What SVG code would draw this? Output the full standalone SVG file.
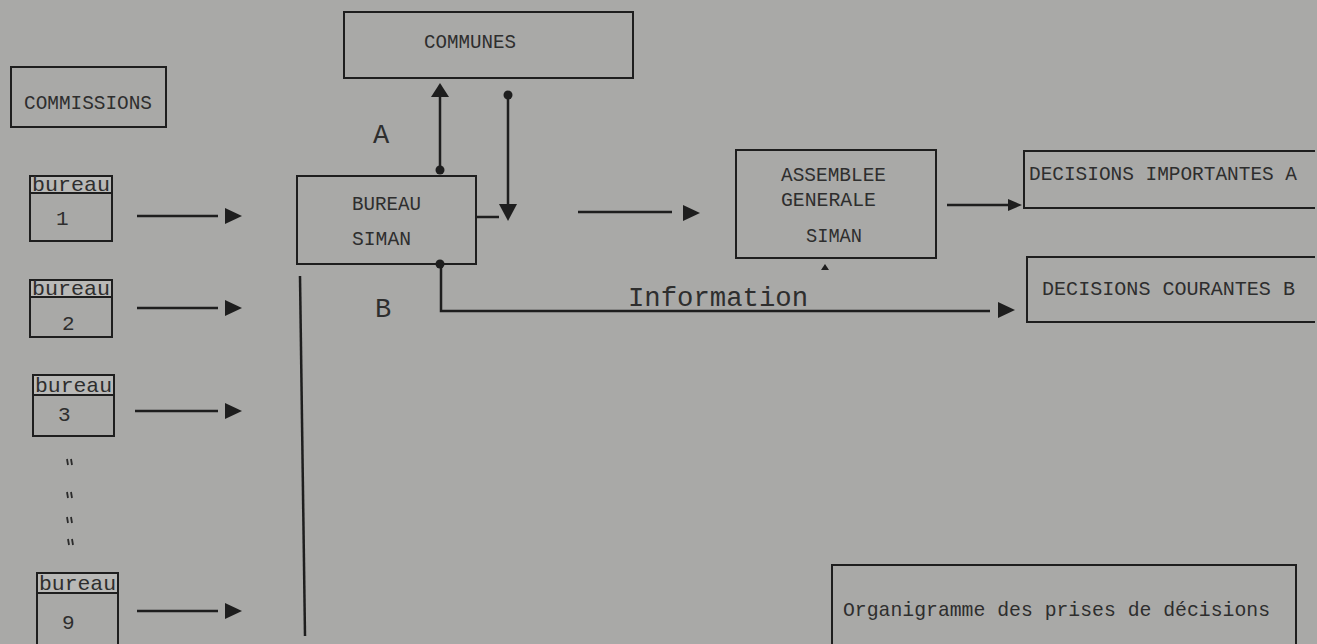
<svg xmlns="http://www.w3.org/2000/svg" width="1317" height="644" viewBox="0 0 1317 644">
<style>
.bg{fill:#a9a9a7}
.box{fill:none;stroke:#1e1e1e;stroke-width:2}
.hdr{fill:#b9b9b7;stroke:#1e1e1e;stroke-width:2}
.t{font-family:"Liberation Mono","DejaVu Sans Mono",monospace;fill:#2e2e2e;font-size:21px}
.big{font-size:27px}
.conn{fill:none;stroke:#1e1e1e;stroke-width:2.5}
.head{fill:#1e1e1e}
</style>
<defs>
<path id="ah" d="M0,-8 L17,0 L0,8 Z"/>
<path id="ahs" d="M0,-6 L14,0 L0,6 Z"/>
<g id="ditto"><path d="M0,0 l1,6 M4,0 l1,6" stroke="#2b2b2b" stroke-width="1.8"/></g>
</defs>
<rect class="bg" x="0" y="0" width="1317" height="644"/>

<g id="commissions">
<rect class="box" x="11" y="67" width="155" height="60"/>
<text class="t" x="24" y="109" textLength="128" lengthAdjust="spacingAndGlyphs">COMMISSIONS</text>
</g>

<g id="communes">
<rect class="box" x="344" y="12" width="289" height="66"/>
<text class="t" x="424" y="48" textLength="92" lengthAdjust="spacingAndGlyphs">COMMUNES</text>
</g>

<g id="bureau1">
<rect class="hdr" x="30" y="176" width="82" height="17"/>
<rect class="box" x="30" y="176" width="82" height="65"/>
<text class="t" x="32" y="191" font-size="19" textLength="78" lengthAdjust="spacingAndGlyphs">bureau</text>
<text class="t" x="56" y="225" font-size="22">1</text>
</g>
<g id="bureau2">
<rect class="hdr" x="30" y="280" width="82" height="17"/>
<rect class="box" x="30" y="280" width="82" height="57"/>
<text class="t" x="32" y="295" font-size="19" textLength="78" lengthAdjust="spacingAndGlyphs">bureau</text>
<text class="t" x="62" y="330" font-size="22">2</text>
</g>
<g id="bureau3">
<rect class="hdr" x="33" y="375" width="81" height="20"/>
<rect class="box" x="33" y="375" width="81" height="61"/>
<text class="t" x="35" y="392" font-size="19" textLength="77" lengthAdjust="spacingAndGlyphs">bureau</text>
<text class="t" x="58" y="421" font-size="22">3</text>
</g>
<g id="ditto-marks">
<use href="#ditto" x="67" y="459"/>
<use href="#ditto" x="67" y="492"/>
<use href="#ditto" x="67" y="517"/>
<use href="#ditto" x="68" y="539"/>
</g>
<g id="bureau9">
<rect class="hdr" x="37" y="573" width="81" height="20"/>
<path class="box" d="M37,644 V573 H118 V644"/>
<text class="t" x="39" y="590" font-size="19" textLength="77" lengthAdjust="spacingAndGlyphs">bureau</text>
<text class="t" x="62" y="629" font-size="22">9</text>
</g>

<g id="bureau-siman">
<rect class="box" x="297" y="176" width="179" height="88"/>
<text class="t" x="352" y="210" textLength="69" lengthAdjust="spacingAndGlyphs">BUREAU</text>
<text class="t" x="352" y="245" textLength="59" lengthAdjust="spacingAndGlyphs">SIMAN</text>
</g>

<g id="assemblee">
<rect class="box" x="736" y="150" width="200" height="108"/>
<text class="t" x="781" y="181" textLength="105" lengthAdjust="spacingAndGlyphs">ASSEMBLEE</text>
<text class="t" x="781" y="206" textLength="95" lengthAdjust="spacingAndGlyphs">GENERALE</text>
<text class="t" x="806" y="242" textLength="56" lengthAdjust="spacingAndGlyphs">SIMAN</text>
</g>

<g id="decisions-importantes">
<path class="box" d="M1315,151 H1024 V208 H1315"/>
<text class="t" x="1029" y="180" font-size="19.5" textLength="268" lengthAdjust="spacingAndGlyphs">DECISIONS IMPORTANTES A</text>
</g>

<g id="decisions-courantes">
<path class="box" d="M1315,257 H1027 V322 H1315"/>
<text class="t" x="1042" y="295" textLength="253" lengthAdjust="spacingAndGlyphs">DECISIONS COURANTES B</text>
</g>

<g id="legend">
<path class="box" d="M832,644 V565 H1296 V644"/>
<text class="t" x="843" y="616" textLength="427" lengthAdjust="spacingAndGlyphs">Organigramme des prises de décisions</text>
</g>

<g id="labels">
<text class="t big" x="373" y="143">A</text>
<text class="t big" x="375" y="317">B</text>
<text class="t big" x="628" y="306" textLength="180" lengthAdjust="spacingAndGlyphs">Information</text>
</g>

<g id="connectors">
<line class="conn" x1="137" y1="216" x2="218" y2="216"/>
<use class="head" href="#ah" x="225" y="216"/>
<line class="conn" x1="137" y1="308" x2="218" y2="308"/>
<use class="head" href="#ah" x="225" y="308"/>
<line class="conn" x1="135" y1="411" x2="218" y2="411"/>
<use class="head" href="#ah" x="225" y="411"/>
<line class="conn" x1="137" y1="611" x2="218" y2="611"/>
<use class="head" href="#ah" x="225" y="611"/>

<line class="conn" x1="300" y1="276" x2="305" y2="636" stroke-width="2"/>

<line class="conn" x1="440" y1="170" x2="440" y2="97" stroke-width="2"/>
<circle class="head" cx="440" cy="170" r="4.5"/>
<path class="head" d="M440,83 L449,97 L431,97 Z"/>

<line class="conn" x1="508" y1="95" x2="508" y2="205" stroke-width="2"/>
<circle class="head" cx="508" cy="95" r="4.5"/>
<path class="head" d="M508,221 L499,204 L517,204 Z"/>
<line class="conn" x1="476" y1="217" x2="499" y2="217"/>

<line class="conn" x1="578" y1="212" x2="672" y2="212"/>
<use class="head" href="#ah" x="683" y="213"/>

<line class="conn" x1="947" y1="205" x2="1010" y2="205"/>
<use class="head" href="#ahs" x="1008" y="205"/>

<path class="conn" d="M441,264 V311 H990"/>
<circle class="head" cx="440" cy="264" r="4.5"/>
<use class="head" href="#ah" x="998" y="310"/>

<path class="head" d="M825,264 L829,270 L821,270 Z"/>
</g>
</svg>
